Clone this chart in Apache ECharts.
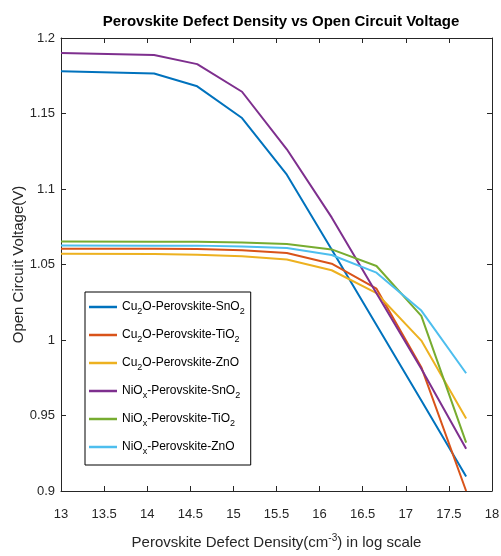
<!DOCTYPE html>
<html>
<head>
<meta charset="utf-8">
<script src="https://cdn.jsdelivr.net/npm/echarts@6/dist/echarts.min.js"></script>
<style>html,body{margin:0;padding:0;background:#fff;}#c{width:501px;height:556px;}</style>
</head>
<body>
<div id="c"></div>
<script>
var defectDensityLog = [13, 14.08, 14.58, 15.1, 15.62, 16.14, 16.66, 17.18, 17.7];
var cu2oSnO2 = [1.178, 1.1765, 1.168, 1.147, 1.1095, 1.060, 1.010, 0.960, 0.9096];
var cu2oTiO2 = [1.0605, 1.0605, 1.0603, 1.0595, 1.0576, 1.0505, 1.034, 0.982, 0.9];
var cu2oZnO  = [1.0572, 1.0570, 1.0565, 1.0555, 1.0533, 1.0462, 1.031, 0.9996, 0.948];
var nioSnO2  = [1.190, 1.1887, 1.1827, 1.1644, 1.1263, 1.0812, 1.031, 0.981, 0.928];
var nioTiO2  = [1.0652, 1.0651, 1.065, 1.0645, 1.0635, 1.060, 1.049, 1.016, 0.932];
var nioZnO   = [1.0626, 1.0625, 1.0625, 1.062, 1.061, 1.0563, 1.0446, 1.0195, 0.978];
var seriesNames = ['Cu2O-Perovskite-SnO2','Cu2O-Perovskite-TiO2','Cu2O-Perovskite-ZnO','NiOx-Perovskite-SnO2','NiOx-Perovskite-TiO2','NiOx-Perovskite-ZnO'];
var legendRich = {
  'Cu2O-Perovskite-SnO2': '{t|Cu}{s|2}{t|O-Perovskite-SnO}{s|2}',
  'Cu2O-Perovskite-TiO2': '{t|Cu}{s|2}{t|O-Perovskite-TiO}{s|2}',
  'Cu2O-Perovskite-ZnO': '{t|Cu}{s|2}{t|O-Perovskite-ZnO}',
  'NiOx-Perovskite-SnO2': '{t|NiO}{s|x}{t|-Perovskite-SnO}{s|2}',
  'NiOx-Perovskite-TiO2': '{t|NiO}{s|x}{t|-Perovskite-TiO}{s|2}',
  'NiOx-Perovskite-ZnO': '{t|NiO}{s|x}{t|-Perovskite-ZnO}'
};
var allSeries = [cu2oSnO2, cu2oTiO2, cu2oZnO, nioSnO2, nioTiO2, nioZnO];
var colors = ['#0072BD','#D95319','#EDB120','#7E2F8E','#77AC30','#4DBEEE'];
var FONT = "'Liberation Sans Narrow','Liberation Sans',Arial,sans-serif";

function pairs(ys){ return defectDensityLog.map(function(x,i){return [x, ys[i]];}); }

var chart = echarts.init(document.getElementById('c'), null, {renderer:'canvas'});
var axisCol = '#262626';
chart.setOption({
  animation:false,
  backgroundColor:'#fff',
  color: colors,
  title:{
    text:'Perovskite Defect Density vs Open Circuit Voltage',
    left:276, top:9, textAlign:'center',
    textStyle:{fontFamily:FONT, fontSize:15, fontWeight:'bold', color:'#000'}
  },
  grid:{left:61, right:9, top:38, bottom:65, containLabel:false, outerBoundsMode:'none'},
  legend:{
    orient:'vertical', left:85, top:292,
    backgroundColor:'#fff', borderColor:'#000', borderWidth:1,
    padding:[9,6,9,4],
    icon:'rect',
    itemWidth:28, itemHeight:2.5, itemGap:13,
    data: seriesNames,
    formatter:function(n){ return legendRich[n]; },
    textStyle:{
      fontFamily:FONT, fontSize:12, color:'#000',
      rich:{
        t:{fontFamily:FONT, fontSize:12, color:'#000'},
        s:{fontFamily:FONT, fontSize:9, color:'#000', padding:[9,0,0,0]}
      }
    }
  },
  xAxis:[{
    type:'value', min:13, max:18, interval:0.5,
    name:'{t|Perovskite Defect Density(cm}{sup|-3}{t|) in log scale}',
    nameLocation:'middle', nameGap:42, nameMoveOverlap:false,
    nameTextStyle:{fontFamily:FONT, fontSize:15, color:'#262626',
      rich:{t:{fontFamily:FONT, fontSize:15, color:'#262626'}, sup:{fontFamily:FONT, fontSize:10, color:'#262626', padding:[0,0,10,0]}}},
    axisLine:{show:true, onZero:false, lineStyle:{color:axisCol, width:1}},
    axisTick:{show:true, inside:true, length:5, lineStyle:{color:axisCol}},
    axisLabel:{fontFamily:FONT, fontSize:13, color:'#262626', margin:17},
    splitLine:{show:false}
  },{
    type:'value', position:'top', min:13, max:18, interval:0.5,
    axisLine:{show:true, onZero:false, lineStyle:{color:axisCol, width:1}},
    axisTick:{show:true, inside:true, length:5, lineStyle:{color:axisCol}},
    axisLabel:{show:false}, splitLine:{show:false}
  }],
  yAxis:[{
    type:'value', min:0.9, max:1.2, interval:0.05,
    name:'Open Circuit Voltage(V)', nameLocation:'middle', nameGap:35, nameMoveOverlap:false,
    nameTextStyle:{fontFamily:FONT, fontSize:15, color:'#262626'},
    axisLine:{show:true, onZero:false, lineStyle:{color:axisCol, width:1}},
    axisTick:{show:true, inside:true, length:5, lineStyle:{color:axisCol}},
    axisLabel:{fontFamily:FONT, fontSize:13, color:'#262626', margin:6},
    splitLine:{show:false}
  },{
    type:'value', position:'right', min:0.9, max:1.2, interval:0.05,
    axisLine:{show:true, onZero:false, lineStyle:{color:axisCol, width:1}},
    axisTick:{show:true, inside:true, length:5, lineStyle:{color:axisCol}},
    axisLabel:{show:false}, splitLine:{show:false}
  }],
  series: allSeries.map(function(ys,i){
    return {
      name: seriesNames[i], type:'line', xAxisIndex:0, yAxisIndex:0,
      data: pairs(ys), symbol:'none', smooth:false,
      lineStyle:{width:2, color:colors[i]}, itemStyle:{color:colors[i]},
      clip:true
    };
  })
});
</script>
</body>
</html>
